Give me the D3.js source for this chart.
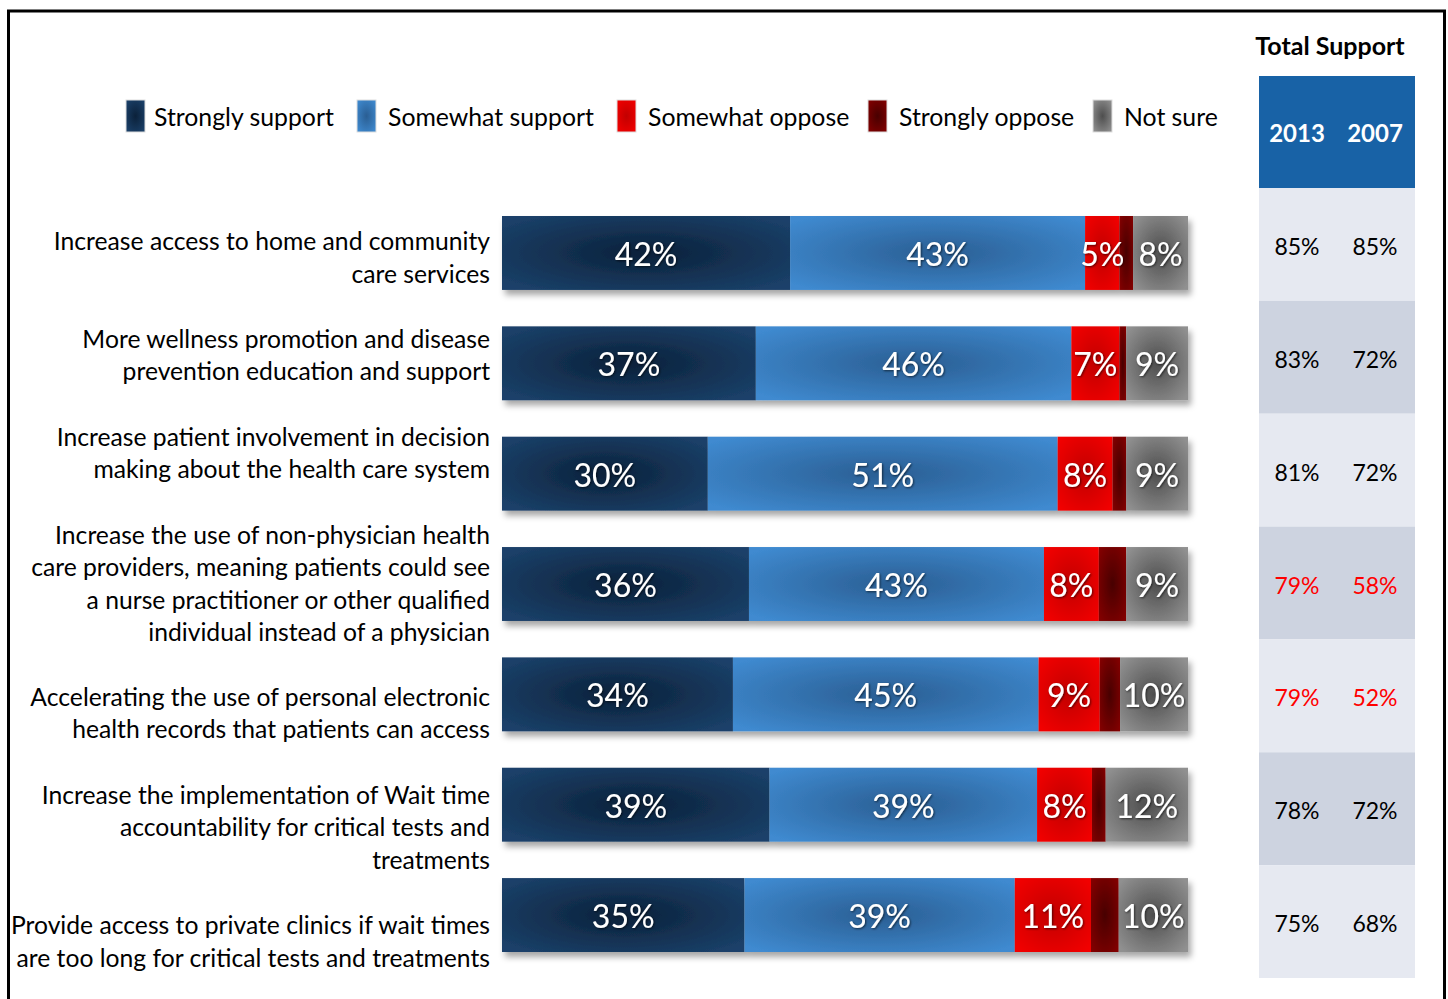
<!DOCTYPE html>
<html>
<head>
<meta charset="utf-8">
<script src="https://cdn.jsdelivr.net/npm/d3@7"></script>
<style>
  html, body { margin: 0; padding: 0; background: #fff; }
  svg { display: block; }
</style>
</head>
<body>
<svg id="chart" width="1448" height="999"></svg>
<script>
// ---------- data ----------
const categories = [
  ["Increase access to home and community", "care services"],
  ["More wellness promotion and disease", "prevention education and support"],
  ["Increase patient involvement in decision", "making about the health care system"],
  ["Increase the use of non-physician health", "care providers, meaning patients could see", "a nurse practitioner or other qualified", "individual instead of a physician"],
  ["Accelerating the use of personal electronic", "health records that patients can access"],
  ["Increase the implementation of Wait time", "accountability for critical tests and", "treatments"],
  ["Provide access to private clinics if wait times", "are too long for critical tests and treatments"]
];
const seriesNames = ["Strongly support", "Somewhat support", "Somewhat oppose", "Strongly oppose", "Not sure"];
const stronglySupport = [42, 37, 30, 36, 34, 39, 35];
const somewhatSupport = [43, 46, 51, 43, 45, 39, 39];
const somewhatOppose  = [5, 7, 8, 8, 9, 8, 11];
const stronglyOppose  = [2, 1, 2, 4, 3, 2, 4];
const notSure         = [8, 9, 9, 9, 10, 12, 10];
const showLabel       = [true, true, true, false, true];
const tableYears = ["2013", "2007"];
const total2013 = [85, 83, 81, 79, 79, 78, 75];
const total2007 = [85, 72, 72, 58, 52, 72, 68];
const highlightRows = [3, 4];

// ---------- layout ----------
const FONT = "Lato, 'Open Sans', sans-serif";
const colors = [
  {edge: "#1b416a", mid: "#0b213a"},
  {edge: "#3f8ad0", mid: "#2a5e93"},
  {edge: "#f20000", mid: "#c20000"},
  {edge: "#820000", mid: "#480000"},
  {edge: "#909090", mid: "#4e4e4e"}
];
const labelShift = [5, -8, -20, 0, 19, 23, 27];

const svg = d3.select("#chart");
const defs = svg.append("defs");

colors.forEach((c, i) => {
  const g = defs.append("radialGradient").attr("id", "grad" + i)
    .attr("cx", "50%").attr("cy", "50%").attr("r", "65%");
  g.append("stop").attr("offset", "0%").attr("stop-color", c.mid);
  g.append("stop").attr("offset", "100%").attr("stop-color", c.edge);
});
const f = defs.append("filter").attr("id", "shadow")
  .attr("x", "-5%").attr("y", "-20%").attr("width", "115%").attr("height", "160%");
f.append("feDropShadow").attr("dx", 3).attr("dy", 5).attr("stdDeviation", 3)
  .attr("flood-color", "#000").attr("flood-opacity", 0.35);
const ts = defs.append("filter").attr("id", "tshadow");
ts.append("feDropShadow").attr("dx", 1).attr("dy", 1).attr("stdDeviation", 0.8)
  .attr("flood-color", "#000").attr("flood-opacity", 0.6);

// frame
svg.append("rect").attr("x", 8.5).attr("y", 11).attr("width", 1436).attr("height", 1000)
  .attr("fill", "none").attr("stroke", "#000").attr("stroke-width", 3);

// legend
const legendX = [126, 357, 617, 868, 1093];
const leg = svg.append("g");
seriesNames.forEach((name, i) => {
  leg.append("rect").attr("x", legendX[i]).attr("y", 100).attr("width", 19).attr("height", 32)
    .attr("fill", `url(#grad${i})`).attr("stroke", "#ddd").attr("stroke-width", 1);
  leg.append("text").attr("x", legendX[i] + 28 + (i > 0 ? 3 : 0)).attr("y", 126)
    .attr("font-family", FONT).attr("font-size", 24.8).attr("fill", "#000").text(name);
});

// bars
const rows = categories.map((c, i) => [stronglySupport[i], somewhatSupport[i], somewhatOppose[i], stronglyOppose[i], notSure[i]]);
const y = d3.scaleBand().domain(d3.range(categories.length)).range([216, 952]).paddingInner(0.33).paddingOuter(0);

const barG = svg.append("g");
rows.forEach((vals, i) => {
  const x = d3.scaleLinear().domain([0, d3.sum(vals)]).range([502, 1188]);
  const stack = d3.cumsum(vals);
  const g = barG.append("g").attr("filter", "url(#shadow)");
  vals.forEach((v, j) => {
    const x0 = x(stack[j] - v), x1 = x(stack[j]);
    g.append("rect").attr("x", x0).attr("y", y(i)).attr("width", x1 - x0).attr("height", y.bandwidth())
      .attr("fill", `url(#grad${j})`);
  });
  vals.forEach((v, j) => {
    if (!showLabel[j]) return;
    const x0 = x(stack[j] - v), x1 = x(stack[j]);
    barG.append("text").attr("x", (x0 + x1) / 2).attr("y", y(i) + y.bandwidth() / 2 + 13)
      .attr("text-anchor", "middle").attr("font-family", FONT).attr("font-size", 32)
      .attr("fill", "#fff").attr("filter", "url(#tshadow)").text(v + "%");
  });
});

// category labels
const lineH = 32.5;
categories.forEach((lines, i) => {
  const cy = y(i) + y.bandwidth() / 2 + labelShift[i];
  const t = svg.append("text").attr("text-anchor", "end").attr("font-family", FONT)
    .attr("font-size", 24.7).attr("fill", "#000");
  lines.forEach((ln, k) => {
    t.append("tspan").attr("x", 490)
      .attr("y", cy + (k - (lines.length - 1) / 2) * lineH + 8.5).text(ln);
  });
});

// table
const colCenter = [1297, 1375];
const ty = d3.scaleBand().domain(d3.range(categories.length)).range([188, 978]);
svg.append("text").attr("x", 1330).attr("y", 55).attr("text-anchor", "middle")
  .attr("font-family", FONT).attr("font-weight", "bold").attr("font-size", 25).text("Total Support");
svg.append("rect").attr("x", 1259).attr("y", 76).attr("width", 156).attr("height", 112).attr("fill", "#1862a6");
tableYears.forEach((yr, k) => {
  svg.append("text").attr("x", colCenter[k]).attr("y", 142).attr("text-anchor", "middle")
    .attr("font-family", FONT).attr("font-weight", "bold").attr("font-size", 24).attr("fill", "#fff").text(yr);
});
categories.forEach((c, i) => {
  svg.append("rect").attr("x", 1259).attr("y", ty(i)).attr("width", 156).attr("height", ty.bandwidth())
    .attr("fill", i % 2 === 0 ? "#e6e9f1" : "#cdd3e0");
  const red = highlightRows.includes(i);
  [total2013[i], total2007[i]].forEach((v, k) => {
    svg.append("text").attr("x", colCenter[k]).attr("y", ty(i) + ty.bandwidth() / 2 + 10.5)
      .attr("text-anchor", "middle").attr("font-family", FONT).attr("font-size", 23)
      .attr("fill", red ? "#ff0000" : "#000").text(v + "%");
  });
});
</script>
</body>
</html>
